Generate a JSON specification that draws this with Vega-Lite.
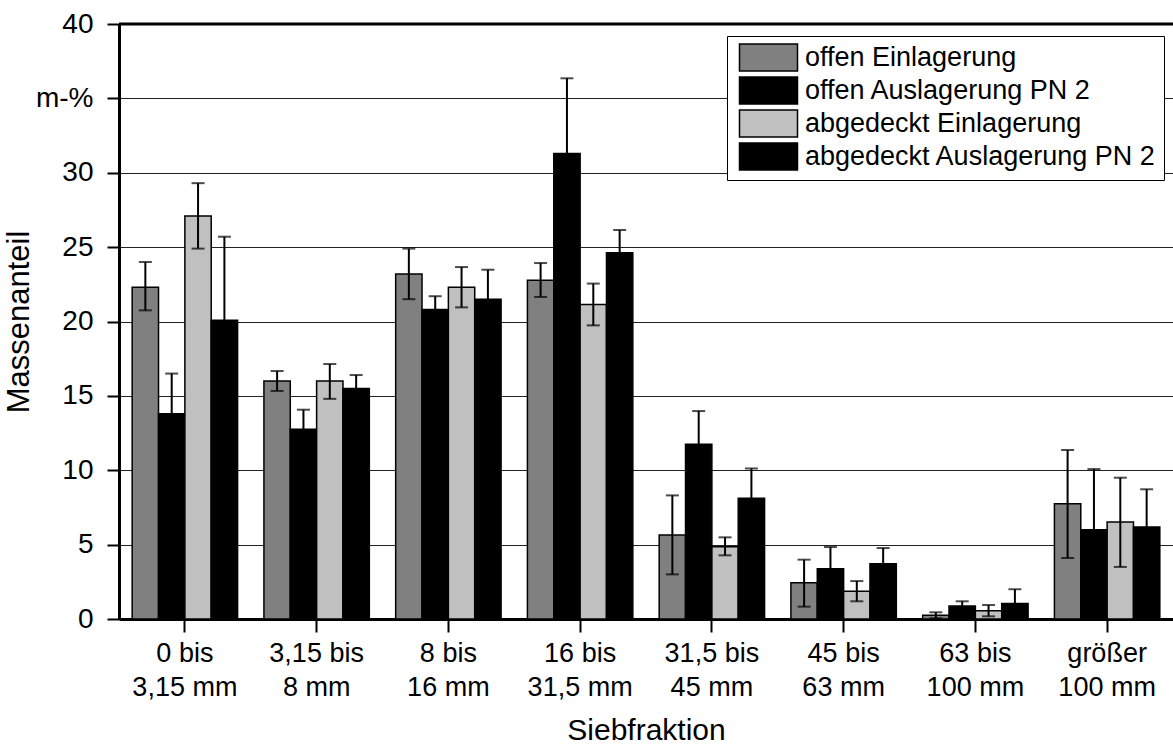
{
  "$schema": "https://vega.github.io/schema/vega-lite/v6.json",
  "width": 1054,
  "height": 595,
  "autosize": {"type": "none"},
  "padding": {"left": 119, "top": 24, "right": 0, "bottom": 128},
  "background": "white",
  "config": {
    "view": {"stroke": null},
    "font": "Liberation Sans",
    "axis": {"labelColor": "#000", "titleColor": "#000", "titleFontWeight": "normal", "labelFont": "Liberation Sans", "titleFont": "Liberation Sans"},
    "legend": {"labelFont": "Liberation Sans"}
  },
  "data": {
    "values": [
      {"cat": "0 bis|3,15 mm", "grp": "offen Einlagerung", "value": 22.3, "lo": 20.75, "hi": 24.0},
      {"cat": "0 bis|3,15 mm", "grp": "offen Auslagerung PN 2", "value": 13.8, "lo": 11.1, "hi": 16.5},
      {"cat": "0 bis|3,15 mm", "grp": "abgedeckt Einlagerung", "value": 27.1, "lo": 24.9, "hi": 29.3},
      {"cat": "0 bis|3,15 mm", "grp": "abgedeckt Auslagerung PN 2", "value": 20.08, "lo": 14.45, "hi": 25.7},
      {"cat": "3,15 bis|8 mm", "grp": "offen Einlagerung", "value": 16.0, "lo": 15.33, "hi": 16.67},
      {"cat": "3,15 bis|8 mm", "grp": "offen Auslagerung PN 2", "value": 12.75, "lo": 11.45, "hi": 14.07},
      {"cat": "3,15 bis|8 mm", "grp": "abgedeckt Einlagerung", "value": 16.0, "lo": 14.8, "hi": 17.14},
      {"cat": "3,15 bis|8 mm", "grp": "abgedeckt Auslagerung PN 2", "value": 15.5, "lo": 14.6, "hi": 16.4},
      {"cat": "8 bis|16 mm", "grp": "offen Einlagerung", "value": 23.2, "lo": 21.5, "hi": 24.9},
      {"cat": "8 bis|16 mm", "grp": "offen Auslagerung PN 2", "value": 20.8, "lo": 19.9, "hi": 21.7},
      {"cat": "8 bis|16 mm", "grp": "abgedeckt Einlagerung", "value": 22.3, "lo": 20.95, "hi": 23.66},
      {"cat": "8 bis|16 mm", "grp": "abgedeckt Auslagerung PN 2", "value": 21.49, "lo": 19.5, "hi": 23.48},
      {"cat": "16 bis|31,5 mm", "grp": "offen Einlagerung", "value": 22.77, "lo": 21.65, "hi": 23.93},
      {"cat": "16 bis|31,5 mm", "grp": "offen Auslagerung PN 2", "value": 31.3, "lo": 26.25, "hi": 36.35},
      {"cat": "16 bis|31,5 mm", "grp": "abgedeckt Einlagerung", "value": 21.15, "lo": 19.74, "hi": 22.55},
      {"cat": "16 bis|31,5 mm", "grp": "abgedeckt Auslagerung PN 2", "value": 24.63, "lo": 23.1, "hi": 26.15},
      {"cat": "31,5 bis|45 mm", "grp": "offen Einlagerung", "value": 5.65, "lo": 3.0, "hi": 8.31},
      {"cat": "31,5 bis|45 mm", "grp": "offen Auslagerung PN 2", "value": 11.74, "lo": 9.5, "hi": 13.98},
      {"cat": "31,5 bis|45 mm", "grp": "abgedeckt Einlagerung", "value": 4.86, "lo": 4.28, "hi": 5.49},
      {"cat": "31,5 bis|45 mm", "grp": "abgedeckt Auslagerung PN 2", "value": 8.11, "lo": 6.1, "hi": 10.12},
      {"cat": "45 bis|63 mm", "grp": "offen Einlagerung", "value": 2.44, "lo": 0.83, "hi": 3.99},
      {"cat": "45 bis|63 mm", "grp": "offen Auslagerung PN 2", "value": 3.38, "lo": 1.92, "hi": 4.84},
      {"cat": "45 bis|63 mm", "grp": "abgedeckt Einlagerung", "value": 1.86, "lo": 1.19, "hi": 2.55},
      {"cat": "45 bis|63 mm", "grp": "abgedeckt Auslagerung PN 2", "value": 3.72, "lo": 2.67, "hi": 4.77},
      {"cat": "63 bis|100 mm", "grp": "offen Einlagerung", "value": 0.25, "lo": 0.05, "hi": 0.45},
      {"cat": "63 bis|100 mm", "grp": "offen Auslagerung PN 2", "value": 0.87, "lo": 0.55, "hi": 1.19},
      {"cat": "63 bis|100 mm", "grp": "abgedeckt Einlagerung", "value": 0.56, "lo": 0.18, "hi": 0.94},
      {"cat": "63 bis|100 mm", "grp": "abgedeckt Auslagerung PN 2", "value": 1.05, "lo": 0.1, "hi": 2.0},
      {"cat": "größer|100 mm", "grp": "offen Einlagerung", "value": 7.75, "lo": 4.1, "hi": 11.36},
      {"cat": "größer|100 mm", "grp": "offen Auslagerung PN 2", "value": 6.0, "lo": 1.94, "hi": 10.08},
      {"cat": "größer|100 mm", "grp": "abgedeckt Einlagerung", "value": 6.52, "lo": 3.5, "hi": 9.5},
      {"cat": "größer|100 mm", "grp": "abgedeckt Auslagerung PN 2", "value": 6.18, "lo": 3.64, "hi": 8.72}
    ]
  },
  "layer": [
    {
      "mark": {"type": "bar", "stroke": "#000", "strokeWidth": 1.5},
      "encoding": {
        "x": {
          "field": "cat", "type": "nominal", "sort": null,
          "scale": {"paddingInner": 0.2, "paddingOuter": 0.1},
          "axis": {
            "title": "Siebfraktion", "titleFontSize": 30, "titlePadding": 15,
            "labelExpr": "split(datum.label, '|')", "labelAngle": 0,
            "labelFontSize": 27, "labelLineHeight": 34, "labelPadding": 8,
            "tickSize": 13, "tickWidth": 2, "tickColor": "#000",
            "domainColor": "#000", "domainWidth": 3, "grid": false
          }
        },
        "xOffset": {"field": "grp", "type": "nominal", "sort": ["offen Einlagerung", "offen Auslagerung PN 2", "abgedeckt Einlagerung", "abgedeckt Auslagerung PN 2"]},
        "y": {
          "field": "value", "type": "quantitative",
          "scale": {"domain": [0, 40], "nice": false},
          "axis": {
            "title": "Massenanteil", "titleFontSize": 31, "titlePadding": 0,
            "values": [0, 5, 10, 15, 20, 25, 30, 35, 40],
            "labelExpr": "datum.value == 35 ? 'm-%' : datum.label",
            "labelFontSize": 28, "labelPadding": 14, "tickSize": 12, "tickWidth": 2, "tickColor": "#000",
            "domainColor": "#000", "domainWidth": 3,
            "grid": true, "gridColor": "#222", "gridWidth": 1.2
          }
        },
        "color": {
          "field": "grp", "type": "nominal",
          "sort": ["offen Einlagerung", "offen Auslagerung PN 2", "abgedeckt Einlagerung", "abgedeckt Auslagerung PN 2"],
          "scale": {"domain": ["offen Einlagerung", "offen Auslagerung PN 2", "abgedeckt Einlagerung", "abgedeckt Auslagerung PN 2"], "range": ["#808080", "#000000", "#c0c0c0", "#000000"]},
          "legend": {
            "title": null, "orient": "none", "legendX": 608, "legendY": 12,
            "direction": "vertical",
            "fillColor": "white", "strokeColor": "#000", "padding": 7,
            "symbolType": "M-2.148,-1H2.148V1H-2.148Z", "symbolSize": 729,
            "symbolStrokeColor": "#000", "symbolStrokeWidth": 1.5, "symbolOpacity": 1,
            "symbolOffset": 20, "labelOffset": 22,
            "labelFontSize": 27, "labelColor": "#000", "labelLimit": 500,
            "rowPadding": 0
          }
        }
      }
    },
    {
      "mark": {"type": "rule", "color": "#000", "strokeWidth": 2},
      "encoding": {
        "x": {"field": "cat", "type": "nominal", "sort": null},
        "xOffset": {"field": "grp", "type": "nominal", "sort": ["offen Einlagerung", "offen Auslagerung PN 2", "abgedeckt Einlagerung", "abgedeckt Auslagerung PN 2"]},
        "y": {"field": "lo", "type": "quantitative"},
        "y2": {"field": "hi"}
      }
    },
    {
      "mark": {"type": "tick", "orient": "horizontal", "color": "#000", "size": 13, "thickness": 2},
      "encoding": {
        "x": {"field": "cat", "type": "nominal", "sort": null},
        "xOffset": {"field": "grp", "type": "nominal", "sort": ["offen Einlagerung", "offen Auslagerung PN 2", "abgedeckt Einlagerung", "abgedeckt Auslagerung PN 2"]},
        "y": {"field": "lo", "type": "quantitative"}
      }
    },
    {
      "mark": {"type": "tick", "orient": "horizontal", "color": "#000", "size": 13, "thickness": 2},
      "encoding": {
        "x": {"field": "cat", "type": "nominal", "sort": null},
        "xOffset": {"field": "grp", "type": "nominal", "sort": ["offen Einlagerung", "offen Auslagerung PN 2", "abgedeckt Einlagerung", "abgedeckt Auslagerung PN 2"]},
        "y": {"field": "hi", "type": "quantitative"}
      }
    },
    {
      "data": {"values": [{"top": 40}]},
      "mark": {"type": "rule", "color": "#000", "strokeWidth": 3},
      "encoding": {"y": {"field": "top", "type": "quantitative"}}
    }
  ]
}
